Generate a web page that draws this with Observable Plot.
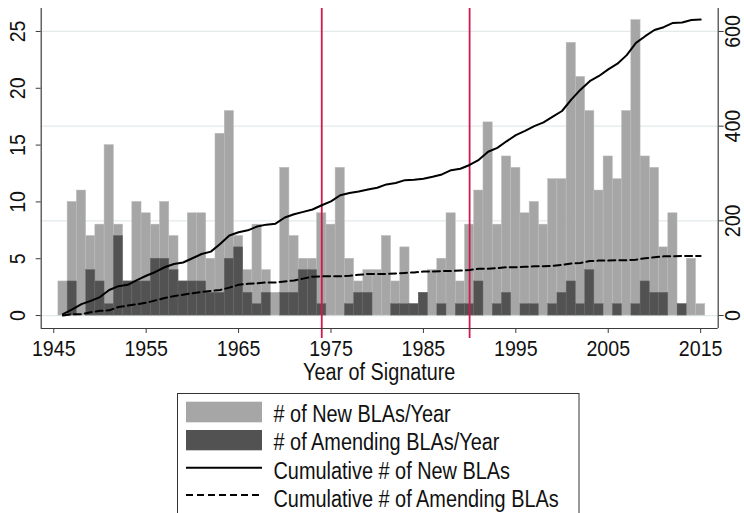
<!DOCTYPE html>
<html>
<head>
<meta charset="utf-8">
<script src="https://cdn.jsdelivr.net/npm/d3@7"></script>
<script src="https://cdn.jsdelivr.net/npm/@observablehq/plot@0.6"></script>
<style>
  html, body { margin: 0; padding: 0; background: #fff; overflow: hidden; }
  #wrap { position: relative; width: 744px; height: 513px; overflow: hidden;
          font-family: 'Liberation Sans', Arial, Helvetica, sans-serif; }
  #chart { position: absolute; left: 0; top: 0; }
  #overlay { position: absolute; left: 0; top: 0; }
</style>
</head>
<body>
<div id="wrap">
  <div id="chart"></div>
  <div id="overlay"></div>
</div>
<script>
// ---------- data ----------
const years = [
  1946,1947,1948,1949,1950,1951,1952,1953,1954,1955,
  1956,1957,1958,1959,1960,1961,1962,1963,1964,1965,
  1966,1967,1968,1969,1970,1971,1972,1973,1974,1975,
  1976,1977,1978,1979,1980,1981,1982,1983,1984,1985,
  1986,1987,1988,1989,1990,1991,1992,1993,1994,1995,
  1996,1997,1998,1999,2000,2001,2002,2003,2004,2005,
  2006,2007,2008,2009,2010,2011,2012,2013,2014,2015
];
const newBLAs = [
  3,10,11,7,8,15,8,3,10,9,
  8,10,7,3,9,9,5,16,18,7,
  4,8,4,2,13,7,5,5,9,8,
  13,5,3,4,4,7,3,6,1,2,
  4,5,9,3,8,11,17,8,14,13,
  9,10,8,12,12,24,21,18,11,14,
  12,18,26,14,13,6,9,1,5,1
];
const amendBLAs = [
  0,3,0,4,3,1,7,3,3,3,
  5,5,4,3,3,3,2,2,5,6,
  2,1,2,0,2,2,4,4,1,0,
  0,1,2,2,0,0,1,1,1,2,
  0,1,0,1,1,3,0,1,2,0,
  1,1,0,1,2,3,1,4,1,0,
  1,0,1,3,2,2,0,1,0,0
];
const leftTicks = [0, 5, 10, 15, 20, 25];
const rightTicks = [0, 200, 400, 600];
const xTicks = [1945, 1955, 1965, 1975, 1985, 1995, 2005, 2015];
const policyYears = [1974, 1990];
const xTitle = "Year of Signature";
const legendLabels = [
  "# of New BLAs/Year",
  "# of Amending BLAs/Year",
  "Cumulative # of New BLAs",
  "Cumulative # of Amending BLAs"
];

// ---------- derived tables ----------
const RATIO = 24; // right-axis units per left-axis unit
const cumNew = d3.cumsum(newBLAs);
const cumAmend = d3.cumsum(amendBLAs);
const rows = years.map((y, i) => ({year: y, nw: newBLAs[i], am: amendBLAs[i], cn: cumNew[i], ca: cumAmend[i]}));

// ---------- styles ----------
const FONT = "'Liberation Sans', Arial, Helvetica, sans-serif";
const STRETCH = " scale(1,1.17)"; // condensed-looking glyphs of the original
const LIGHT = "#a6a6a6", DARK = "#525252", AXIS = "#3c3c3c", GRID = "#e2eaec", RED = "#d3174f";
const XDOM = [1943.64, 2016.9], YDOM = [-1.14, 27.02];
const TICKFS = 19.6;

const chart = Plot.plot({
  width: 744, height: 385,
  marginLeft: 40.7, marginRight: 26.3, marginTop: 8, marginBottom: 57,
  style: {fontFamily: FONT, fontSize: TICKFS + "px", background: "white", color: "#111", overflow: "visible"},
  x: {domain: XDOM, axis: null},
  y: {domain: YDOM, axis: null},
  marks: [
    Plot.ruleY(rightTicks, {y: d => d / RATIO, stroke: GRID, strokeWidth: 1.3}),
    Plot.rectY(rows, {x1: d => d.year - 0.5, x2: d => d.year + 0.5, y1: 0, y2: "nw",
      fill: LIGHT, stroke: "#bcbcbc", strokeWidth: 0.5}),
    Plot.rectY(rows.filter(d => d.am > 0), {x1: d => d.year - 0.5, x2: d => d.year + 0.5, y1: 0, y2: "am",
      fill: DARK, stroke: "#6a6a6a", strokeWidth: 0.5}),
    Plot.ruleX(policyYears, {stroke: RED, strokeWidth: 1.8, insetBottom: -10}),
    Plot.line(rows, {x: "year", y: d => d.cn / RATIO, stroke: "#000", strokeWidth: 2}),
    Plot.line(rows, {x: "year", y: d => d.ca / RATIO, stroke: "#000", strokeWidth: 2, strokeDasharray: "7,4"}),
    // axis lines
    Plot.ruleY([YDOM[0]], {stroke: AXIS, strokeWidth: 1.2}),
    Plot.ruleX([XDOM[0]], {stroke: AXIS, strokeWidth: 1.2}),
    Plot.ruleX([XDOM[1]], {stroke: AXIS, strokeWidth: 1.2}),
    // bottom axis
    Plot.axisX(xTicks, {anchor: "bottom", tickSize: 5, tickPadding: 6, tickFormat: d => String(d),
      stroke: AXIS, fontSize: TICKFS, label: null}),
    // left axis
    Plot.axisY(leftTicks, {anchor: "left", tickSize: 5, tickFormat: () => "", stroke: AXIS, label: null}),
    Plot.text(leftTicks, {y: d => d, text: d => String(d), frameAnchor: "left", dx: -24,
      rotate: -90, textAnchor: "middle", lineAnchor: "middle", fontSize: TICKFS, fill: "#111"}),
    // right axis
    Plot.axisY(rightTicks.map(v => v / RATIO), {anchor: "right", tickSize: 5, tickFormat: () => "", stroke: AXIS, label: null}),
    Plot.text(rightTicks, {y: d => d / RATIO, text: d => String(d), frameAnchor: "right", dx: 14.5,
      rotate: -90, textAnchor: "middle", lineAnchor: "middle", fontSize: TICKFS, fill: "#111"})
  ]
});
// taller glyphs, as in the original's condensed font
chart.querySelectorAll("text").forEach(el => {
  const t = el.getAttribute("transform");
  if (t) el.setAttribute("transform", t + STRETCH);
});
document.getElementById("chart").appendChild(chart);

// ---------- axis title and legend ----------
const lg = d3.create("svg").attr("width", 744).attr("height", 513)
  .style("font-family", FONT).style("position", "absolute");
lg.append("text").attr("transform", "translate(379.2,379.5)" + STRETCH)
  .attr("text-anchor", "middle").attr("font-size", 19.8).attr("fill", "#111").text(xTitle);
lg.append("rect").attr("x", 177.5).attr("y", 393.5).attr("width", 401.5).attr("height", 140)
  .attr("fill", "white").attr("stroke", "#333").attr("stroke-width", 1);
const swX = 186, swW = 76, txX = 273.5;
lg.append("rect").attr("x", swX).attr("y", 401.7).attr("width", swW).attr("height", 20.6).attr("fill", LIGHT);
lg.append("rect").attr("x", swX).attr("y", 430).attr("width", swW).attr("height", 20.3).attr("fill", DARK);
lg.append("line").attr("x1", swX).attr("x2", swX + swW).attr("y1", 467.7).attr("y2", 467.7)
  .attr("stroke", "#000").attr("stroke-width", 2);
lg.append("line").attr("x1", swX).attr("x2", swX + swW).attr("y1", 495).attr("y2", 495)
  .attr("stroke", "#000").attr("stroke-width", 2).attr("stroke-dasharray", "7,4");
const baselines = [421.5, 450, 478.5, 507];
legendLabels.forEach((t, i) => {
  lg.append("text").attr("transform", `translate(${txX},${baselines[i]})` + STRETCH)
    .attr("font-size", 19.9).attr("fill", "#111").text(t);
});
document.getElementById("overlay").appendChild(lg.node());
</script>
</body>
</html>
